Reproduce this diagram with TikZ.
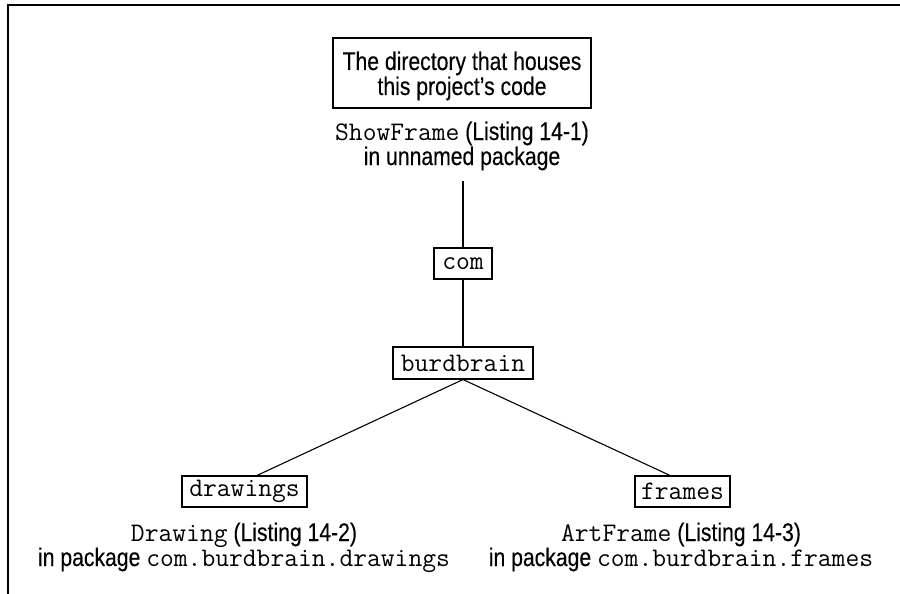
\documentclass[tikz,border=0pt]{standalone}
\usepackage{fontspec}
\setmainfont{Liberation Sans}[FakeStretch=0.83,FakeBold=0.25]
\newcommand\dgsans{\fontsize{25.5}{25}\selectfont}
\newcommand\dgmono{\fontsize{26.8}{25}\ttfamily}
\begin{document}
\begin{tikzpicture}[x=1pt,y=-1pt,
  box/.style={draw,line width=1.1pt,inner sep=0pt},
  codebox/.style={box,font=\dgmono},
  lbl/.style={inner sep=0pt,anchor=base,font=\dgsans},
  conn/.style={line width=1.1pt}]
\useasboundingbox (0,0) rectangle (900,594);
% outer frame
\draw[line width=2pt] (7.5,594) -- (7.5,5) -- (900,5);
% top box
\node[box,minimum width=258pt,minimum height=70pt] (top) at (462,73) {};
\node[lbl] (top1) at (462,70) {The directory that houses};
\node[lbl] (top2) at (462,95) {this project’s code};
% top labels
\node[lbl] (show1) at (462,140) {{\dgmono ShowFrame} (Listing 14-1)};
\node[lbl] (show2) at (462,165) {in unnamed package};
\coordinate (showend) at (463,181);
% code boxes
\node[codebox,minimum width=58pt,minimum height=31pt] (com) at (463,263.5) {com};
\node[codebox,minimum width=140pt,minimum height=32pt] (burd) at (463,363) {burdbrain};
\node[codebox,minimum width=125pt,minimum height=31pt] (draw) at (244.5,491.5) {drawings};
\node[codebox,minimum width=95pt,minimum height=31pt] (frames) at (682.5,491.5) {frames};
% bottom labels
\node[lbl] (dr1) at (244,541) {{\dgmono Drawing} (Listing 14-2)};
\node[lbl] (dr2) at (244,566) {in package {\dgmono com.burdbrain.drawings}};
\node[lbl] (fr1) at (681,541) {{\dgmono ArtFrame} (Listing 14-3)};
\node[lbl] (fr2) at (681,566) {in package {\dgmono com.burdbrain.frames}};
% connectors
\draw[conn] (showend) -- (com.north);
\draw[conn] (com.south) -- (burd.north);
\draw[conn] (burd.south) -- ([xshift=12.5pt]draw.north);
\draw[conn] (burd.south) -- ([xshift=-12.5pt]frames.north);
\end{tikzpicture}
\end{document}
